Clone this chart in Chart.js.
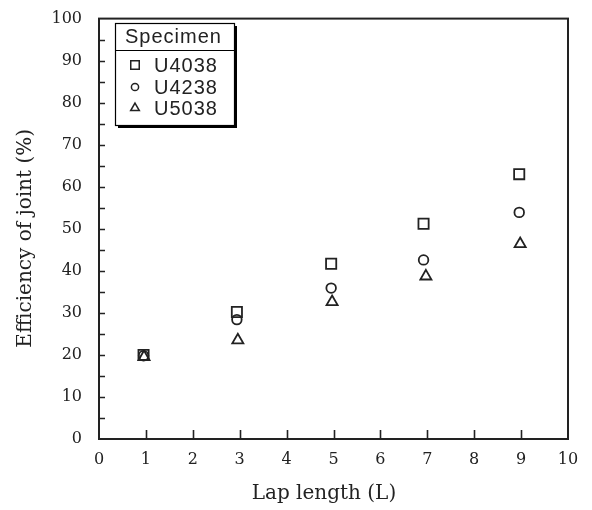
<!DOCTYPE html>
<html><head><meta charset="utf-8">
<script src="https://cdn.jsdelivr.net/npm/chart.js@4/dist/chart.umd.min.js"></script>
<style>html,body{margin:0;padding:0;background:#fff;}#wrap{width:592px;height:510px;}</style>
</head><body><div id="wrap"><canvas id="c" width="592" height="510"></canvas></div>
<script>
// ---- data ----
const legendTitle = 'Specimen';
const seriesNames = ['U4038', 'U4238', 'U5038'];
const xU4038 = [0.95, 2.94, 4.95, 6.92, 8.96];
const yU4038 = [20.0, 30.2, 41.7, 51.2, 63.0];
const xU4238 = [0.95, 2.94, 4.95, 6.92, 8.96];
const yU4238 = [19.8, 28.4, 35.9, 42.6, 53.9];
const xU5038 = [0.96, 2.96, 4.97, 6.97, 8.98];
const yU5038 = [19.5, 23.5, 32.6, 38.7, 46.4];
const xTicks = [0, 1, 2, 3, 4, 5, 6, 7, 8, 9, 10];
const yTicks = [0, 10, 20, 30, 40, 50, 60, 70, 80, 90, 100];
const xTitle = 'Lap length (L)';
const yTitle = 'Efficiency of joint (%)';

const toPts = (xs, ys) => xs.map((x, i) => ({x: x, y: ys[i]}));
const INK = '#222';
const styles = [
  {pointStyle: 'rect', pointRadius: 7.2, legendRadius: 6},
  {pointStyle: 'circle', pointRadius: 4.8, legendRadius: 3.6},
  {pointStyle: 'triangle', pointRadius: 6.4, legendRadius: 5},
];
const series = [toPts(xU4038, yU4038), toPts(xU4238, yU4238), toPts(xU5038, yU5038)];

const datasets = series.map((d, i) => ({
  label: seriesNames[i],
  data: d,
  pointStyle: styles[i].pointStyle,
  pointRadius: styles[i].pointRadius,
  pointHoverRadius: styles[i].pointRadius,
  pointBorderWidth: 1.8,
  pointBorderColor: INK,
  pointBackgroundColor: 'rgba(255,255,255,0)',
  showLine: false,
  legendRadius: styles[i].legendRadius
}));

const framePlugin = {
  id: 'frame',
  afterDraw(chart) {
    const ctx = chart.ctx, a = chart.chartArea;
    const xs = chart.scales.x, ys = chart.scales.y;
    ctx.save();
    ctx.strokeStyle = INK;
    ctx.lineWidth = 2;
    ctx.strokeRect(a.left, a.top, a.right - a.left, a.bottom - a.top);
    ctx.lineWidth = 1.6;
    ctx.beginPath();
    xTicks.forEach(v => {
      if (v === xTicks[0] || v === xTicks[xTicks.length - 1]) return;
      const px = Math.round(xs.getPixelForValue(v)) + 0.5;
      ctx.moveTo(px, a.bottom); ctx.lineTo(px, a.bottom - 9);
    });
    for (let v = 5; v < 100; v += 5) {
      const py = Math.round(ys.getPixelForValue(v)) + 0.5;
      ctx.moveTo(a.left, py); ctx.lineTo(a.left + 6, py);
    }
    ctx.stroke();

    // legend box
    const bx = 115, by = 23, bw = 119, bh = 102, hy = 50;
    ctx.fillStyle = '#000';
    ctx.fillRect(bx + 3, by + 3, bw, bh);
    ctx.fillStyle = '#fff';
    ctx.fillRect(bx, by, bw, bh);
    ctx.lineWidth = 1.2;
    ctx.strokeStyle = '#000';
    ctx.strokeRect(bx + 0.5, by + 0.5, bw, bh);
    ctx.beginPath(); ctx.moveTo(bx, hy + 0.5); ctx.lineTo(bx + bw, hy + 0.5); ctx.stroke();
    ctx.fillStyle = INK;
    ctx.textBaseline = 'middle';
    ctx.textAlign = 'center';
    ctx.font = '20px "Liberation Sans", Arial, sans-serif';
    try { ctx.letterSpacing = '1px'; } catch (e) {}
    ctx.fillText(legendTitle, bx + bw / 2 - 1, 37);
    ctx.textAlign = 'left';
    const rows = [65, 87, 108];
    chart.data.datasets.forEach((ds, i) => {
      ctx.strokeStyle = INK;
      ctx.fillStyle = 'rgba(255,255,255,0)';
      ctx.lineWidth = 1.5;
      Chart.helpers.drawPoint(ctx, {pointStyle: ds.pointStyle, rotation: 0, radius: ds.legendRadius, borderWidth: 1.5}, 135, rows[i]);
      ctx.fillStyle = INK;
      ctx.fillText(ds.label, 154, rows[i] + 1);
    });
    ctx.restore();
  }
};

const tickFont = {family: '"DejaVu Serif", serif', size: 16};
const titleFont = {family: '"DejaVu Serif", serif', size: 20};

new Chart(document.getElementById('c'), {
  type: 'scatter',
  data: {datasets: datasets},
  options: {
    responsive: false,
    animation: false,
    devicePixelRatio: 1,
    layout: {padding: {left: 0, top: 11, right: 24, bottom: 0}},
    plugins: {legend: {display: false}, tooltip: {enabled: false}},
    scales: {
      x: {
        type: 'linear', min: 0, max: 10,
        afterBuildTicks: s => { s.ticks = xTicks.map(v => ({value: v})); },
        afterFit: s => { s.height = 71; },
        grid: {display: false},
        border: {display: false},
        ticks: {font: tickFont, color: INK, padding: 3, maxRotation: 0},
        title: {display: true, text: xTitle + '\u2007 ', font: titleFont, color: INK, padding: {top: 0, bottom: 4}}
      },
      y: {
        type: 'linear', min: 0, max: 100,
        afterBuildTicks: s => { s.ticks = yTicks.map(v => ({value: v})); },
        afterFit: s => { s.width = 99; },
        grid: {display: false},
        border: {display: false},
        ticks: {font: tickFont, color: INK, padding: 9},
        title: {display: true, text: yTitle + '\u2007 ', font: titleFont, color: INK, padding: {top: 14, bottom: 0}}
      }
    }
  },
  plugins: [framePlugin]
});
</script>
</body></html>
